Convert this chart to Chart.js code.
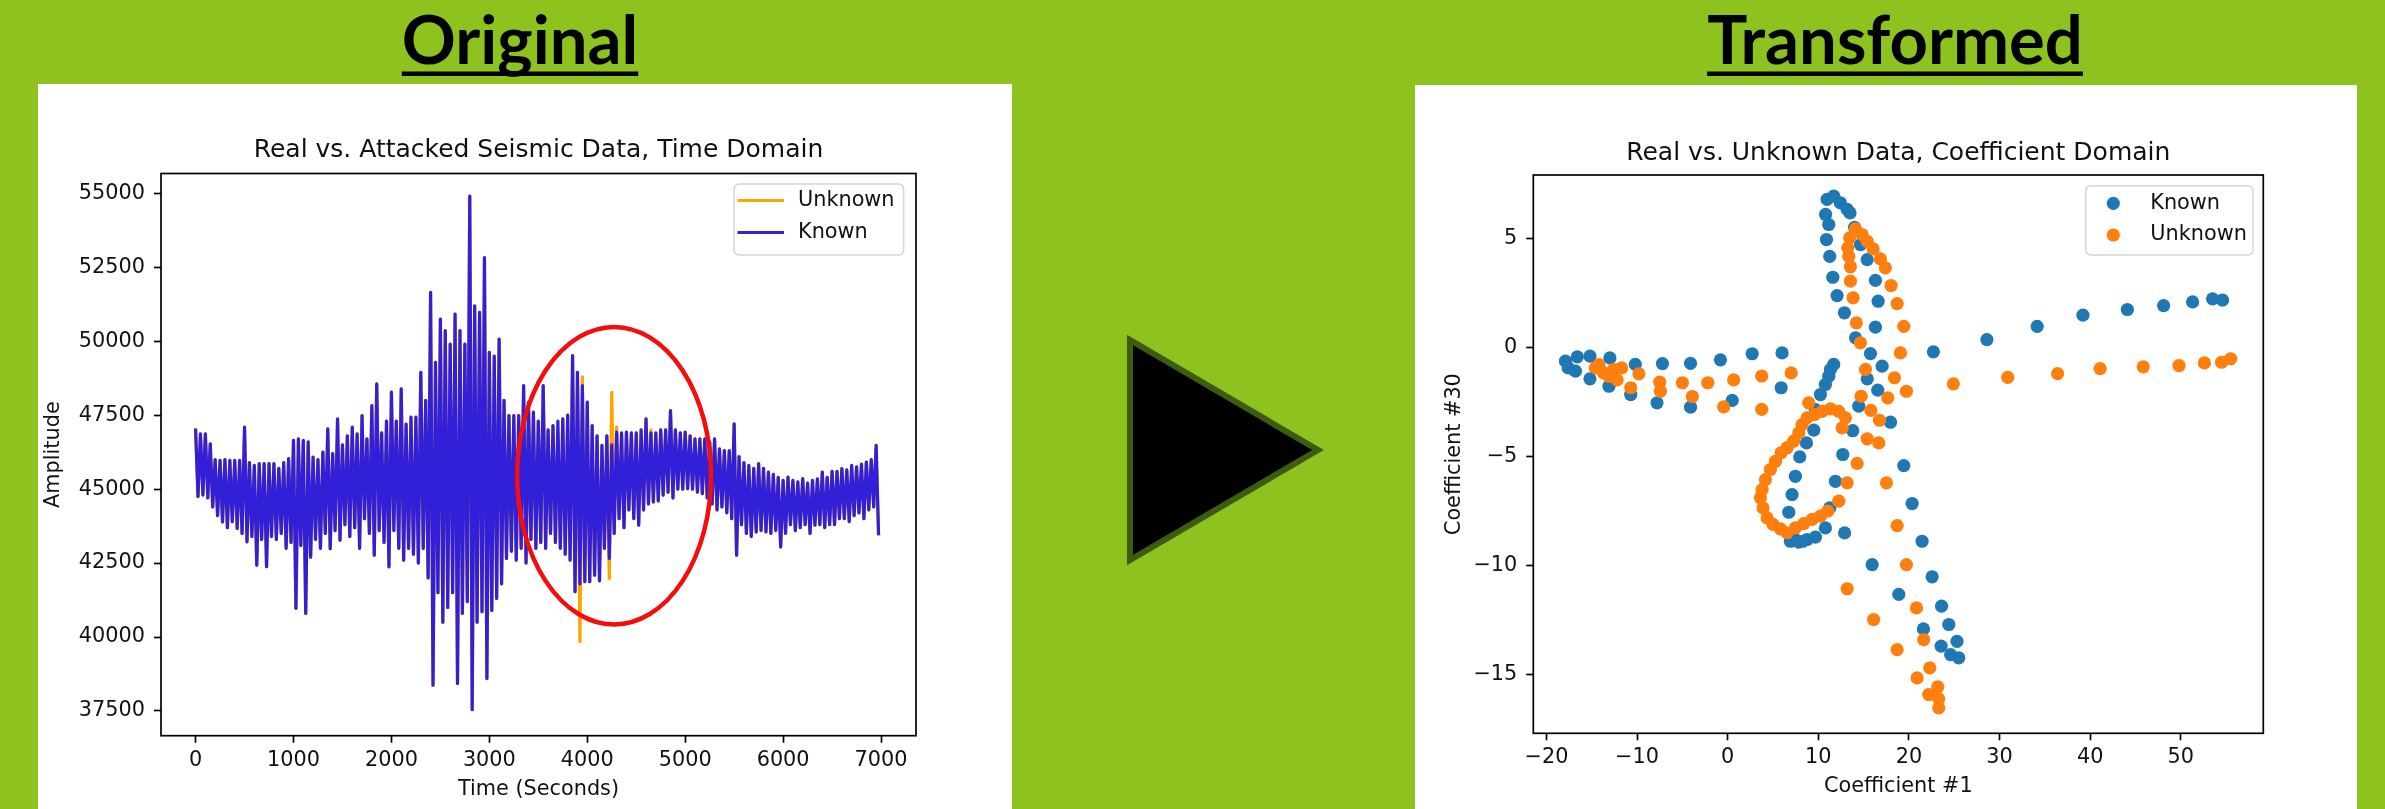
<!DOCTYPE html>
<html><head><meta charset="utf-8">
<script src="https://cdn.jsdelivr.net/npm/chart.js@4.4.1/dist/chart.umd.min.js"></script>
<style>
html,body{margin:0;padding:0;}
body{width:2385px;height:809px;background:#8dc21f;position:relative;overflow:hidden;}
.panel{position:absolute;background:#fff;}
canvas{position:absolute;}
svg{position:absolute;left:0;top:0;}
</style></head><body>
<div class="panel" style="left:38px;top:84px;width:974px;height:725px"></div>
<div class="panel" style="left:1415px;top:85px;width:942px;height:724px"></div>
<canvas id="timeChart" width="974" height="725" style="left:38px;top:84px;width:974px;height:725px"></canvas>
<canvas id="coefChart" width="942" height="724" style="left:1415px;top:85px;width:942px;height:724px"></canvas>
<svg width="2385" height="809" viewBox="0 0 2385 809">
  <text id="head1" x="520" y="63.5" text-anchor="middle" font-family="Lato" font-weight="700" font-size="67" fill="#000">Original</text>
  <rect id="under1" x="398" y="71.5" width="244" height="4.5" fill="#000"/>
  <text id="head2" x="1895" y="63.5" text-anchor="middle" font-family="Lato" font-weight="700" font-size="67" fill="#000">Transformed</text>
  <rect id="under2" x="1699" y="71.5" width="391" height="4.5" fill="#000"/>
  <polygon points="1130,340 1130,560 1318,450" fill="#000" stroke="#3d5c12" stroke-width="6"/>
</svg>
<script>
// ===== Left chart: seismic trace, read as max / min per 50-second bin =====
const binSeconds = 50;
const knownHigh = [
  47050, 46870, 46870, 46535, 46000, 45970, 46000, 45970, 45970, 45970,
  47100, 45900, 45800, 45860, 45860, 45860, 45860, 45700, 45900, 46030,
  46650, 46700, 46650, 46600, 46085, 46000, 46250, 47040, 46200, 47377,
  46500, 46800, 47100, 46870, 47490, 46700, 47826, 48557, 46900, 47300,
  48277, 47300, 48390, 47200, 47433, 47433, 48950, 48000, 51650, 49288,
  50750, 50356, 49900, 50918, 50356, 49900, 54908, 51199, 50975, 52829,
  49625, 49500, 50075, 48000, 47490, 47490, 47490, 48500, 47940, 47600,
  47300, 48500, 47000, 47150, 47300, 47377, 47500, 49513, 48950, 48500,
  47940, 47150, 46800, 46478, 46800, 46500, 46928, 46900, 46928, 46900,
  46900, 47000, 47377, 46900, 46900, 47000, 47000, 47659, 47000, 46900,
  46928, 46800, 46703, 46703, 46703, 46600, 46703, 46366, 46300, 46300,
  47210, 46100, 45900, 45800, 45700, 45860, 45700, 45580, 45500, 45400,
  45300, 45410, 45300, 45250, 45354, 45200, 45300, 45350, 45580, 45400,
  45600, 45600, 45691, 45650, 45800, 45750, 45850, 45916, 46000, 46478
];
const knownLow = [
  44750, 44800, 44700, 44400, 44100, 43890, 43700, 43900, 43670, 43500,
  43220, 43400, 42430, 43300, 42380, 43400, 43300, 43500, 43000, 43200,
  40970, 43100, 40800, 42700, 43300, 43000, 43500, 42990, 43600, 43275,
  43800, 43400, 43700, 43000, 44000, 43500, 42770, 43600, 43200, 42375,
  43600, 43000, 42600, 42994, 42800, 42500, 42994, 42000, 38370, 41500,
  40500, 41000, 41500, 38430, 40800, 41200, 37545, 40500, 40858, 38600,
  40900, 41307, 41800, 42656, 42900, 42600, 43000, 42500, 43300, 43000,
  43200, 43000, 43500, 43200, 43000, 42800, 42600, 41532, 41800, 41870,
  41870, 42094, 41900, 43000, 42656, 43500, 44000, 43700, 44300, 44005,
  43780, 44300, 44500, 44567, 44600, 44800, 44900, 44700, 45000, 45000,
  45017, 45000, 44900, 44848, 44700, 44500, 44300, 44400, 44200, 44000,
  42769, 43800, 43500, 43400, 43556, 43600, 43556, 43500, 43600, 43045,
  43500, 43800, 43600, 43700, 43800, 43500, 43780, 43800, 43700, 43800,
  43800, 44000, 44005, 43900, 44100, 44200, 44000, 44300, 44400, 43443
];
// where the attacked ("Unknown") trace departs from the known one
const attackHighTimes  = [3700, 3950, 4250, 4300, 4650];
const attackHighValues = [46900, 48800, 48276, 47100, 47000];
const attackLowTimes   = [3900, 4200];
const attackLowValues  = [39846, 41982];
const timeTicks = [0, 1000, 2000, 3000, 4000, 5000, 6000, 7000];
const amplitudeTicks = [37500, 40000, 42500, 45000, 47500, 50000, 52500, 55000];

// ===== Right chart: coefficient scatter =====
const knownC1 = [
  -17.9, -17.6, -16.6, -16.8, -15.2, -15.2, -13.0, -13.1, -10.2, -10.7, -7.2, -7.8, -4.1, -4.1, -0.8, 0.5, 2.7, 5.9, 6.0,
  11.7, 11.34, 11.15, 10.78, 10.23, 9.68, 9.5, 8.69, 7.95, 7.47, 7.1, 6.74, 6.92, 7.3, 7.84, 8.3, 8.76, 9.68, 10.78, 11.26, 11.89, 12.7, 13.8, 14.46, 12.9,
  10.97, 11.7, 12.44, 13.18, 13.5, 14.0, 10.8, 11.15, 10.9, 11.26, 11.6, 12.07, 12.88, 14.1, 15.75, 17.04, 15.4, 16.56, 17.96, 14.65, 15.39, 16.3, 16.6, 16.3,
  19.43, 20.35, 21.45, 15.94, 22.56, 18.88, 23.6, 24.4, 21.6, 23.55, 25.3, 24.6, 25.5,
  22.7, 28.6, 34.15, 39.2, 44.1, 48.1, 51.3, 53.5, 54.6
];
const knownC30 = [
  -0.64, -0.95, -0.44, -1.1, -0.41, -1.45, -0.49, -1.79, -0.79, -2.17, -0.75, -2.55, -0.74, -2.75, -0.58, -2.44, -0.3, -1.86, -0.26,
  -0.79, -1.02, -1.33, -1.71, -2.17, -2.86, -3.8, -4.39, -5.03, -5.92, -6.76, -7.57, -8.9, -8.75, -8.94, -8.9, -8.82, -8.71, -8.29, -7.37, -6.15, -4.92, -3.83, -2.7, -8.52,
  6.78, 6.93, 6.62, 6.32, 6.16, 5.5, 6.09, 5.63, 4.94, 4.17, 3.21, 2.37, 1.58, 0.43, -0.29, -0.87, -1.45, -1.97, -3.44, 4.71, 4.02, 3.07, 2.11, 0.92,
  -5.43, -7.17, -8.9, -9.97, -10.53, -11.34, -11.88, -12.72, -12.92, -13.71, -13.49, -14.1, -14.25,
  -0.21, 0.35, 0.96, 1.47, 1.73, 1.91, 2.08, 2.22, 2.16
];
const unknownC1 = [
  -14.6, -14.2, -13.7, -13.1, -12.6, -11.7, -12.2, -10.7, -9.8, -7.5, -7.43, -5.0, -3.9, -2.2, -0.44, 0.66, 3.75, 3.75, 7.0, 8.94,
  12.99, 12.63, 12.25, 11.34, 10.42, 9.57, 8.76, 8.21, 7.84, 7.28, 6.56, 5.9, 5.27, 4.71, 4.16, 3.8, 3.61, 3.9, 4.35, 5.0, 5.82, 6.56, 7.47, 8.39, 9.32, 10.23, 11.04, 12.25, 13.18, 14.28,
  14.1, 14.83, 15.39, 13.47, 13.25, 13.36, 13.54, 16.05, 16.85, 17.4, 18.03, 18.7, 19.43, 19.06, 18.4, 19.72, 17.66, 16.75, 15.8, 13.54, 13.84, 14.2, 14.65, 15.2, 14.72, 15.39, 16.67,
  17.52, 18.7, 19.72, 13.18, 16.1, 20.83, 21.63, 18.7, 22.3, 20.9, 23.18, 22.19, 23.29, 23.29,
  24.9, 30.9, 36.4, 41.1, 45.85, 49.8, 52.6, 54.5, 55.5
];
const unknownC30 = [
  -0.95, -0.8, -1.18, -1.33, -1.02, -0.95, -1.5, -1.86, -1.22, -1.6, -2.02, -1.63, -2.26, -1.63, -2.74, -1.5, -1.32, -2.85, -1.18, -2.55,
  -3.24, -3.7, -2.94, -2.83, -2.94, -3.09, -3.24, -3.55, -3.93, -4.31, -4.61, -4.84, -5.23, -5.61, -6.07, -6.53, -6.91, -7.37, -7.83, -8.13, -8.33, -8.51, -8.29, -8.09, -7.9, -7.75, -7.52, -7.06, -6.22, -5.33,
  5.43, 5.17, 4.86, 5.02, 4.56, 4.17, 3.69, 4.51, 4.05, 3.64, 2.83, 2.0, 0.96, -0.26, -1.4, -2.02, -2.32, -3.35, -2.9, 3.03, 2.27, 1.12, 0.2, -1.02, -2.25, -4.2, -4.39,
  -6.22, -8.18, -9.97, -11.08, -12.49, -11.96, -13.41, -13.87, -14.71, -15.17, -15.58, -15.93, -16.13, -16.54,
  -1.68, -1.38, -1.21, -0.98, -0.9, -0.84, -0.72, -0.69, -0.53
];
const coef1Ticks = [-20, -10, 0, 10, 20, 30, 40, 50];
const coef30Ticks = [-15, -10, -5, 0, 5];

// ===== helpers =====
function tracePoints(high, low) {
  const pts = [];
  for (let i = 0; i < high.length; i++) {
    pts.push({x: i * binSeconds, y: high[i]});
    pts.push({x: i * binSeconds + binSeconds / 2, y: low[i]});
  }
  return pts;
}
function withEdits(base, times, values) {
  const out = base.slice();
  times.forEach((t, k) => { out[Math.round(t / binSeconds)] = values[k]; });
  return out;
}
const unknownHigh = withEdits(knownHigh, attackHighTimes, attackHighValues);
const unknownLow = withEdits(knownLow, attackLowTimes, attackLowValues);
const pairs = (xs, ys) => xs.map((x, i) => ({x: x, y: ys[i]}));
const fixedTicks = arr => scale => { scale.ticks = arr.map(v => ({value: v})); };
const minusFmt = v => String(v).replace('-', '\u2212');

Chart.defaults.font.family = '"DejaVu Sans"';
Chart.defaults.color = '#111';
const TXT = '#111';
const TICK = 20.8;

const mplFrame = {
  id: 'mplFrame',
  afterDatasetsDraw(chart, args, o) {
    const {ctx, chartArea: a, scales} = chart;
    ctx.save();
    if (o.ellipse) {
      const e = o.ellipse;
      const cx = scales.x.getPixelForValue(e.x), cy = scales.y.getPixelForValue(e.y);
      const rx = Math.abs(scales.x.getPixelForValue(e.x + e.rx) - cx);
      const ry = Math.abs(scales.y.getPixelForValue(e.y + e.ry) - cy);
      ctx.beginPath();
      ctx.ellipse(cx, cy, rx, ry, 0, 0, Math.PI * 2);
      ctx.strokeStyle = e.color; ctx.lineWidth = e.width; ctx.stroke();
    }
    ctx.strokeStyle = '#000'; ctx.lineWidth = 1.7;
    ctx.strokeRect(a.left, a.top, a.right - a.left, a.bottom - a.top);
    const L = o.legend;
    if (L) {
      const x0 = a.right - L.right - L.width, y0 = a.top + L.top;
      ctx.beginPath();
      ctx.roundRect(x0, y0, L.width, L.height, 5);
      ctx.fillStyle = 'rgba(255,255,255,0.85)'; ctx.fill();
      ctx.strokeStyle = '#d4d4d4'; ctx.lineWidth = 1.5; ctx.stroke();
      ctx.font = TICK + 'px "DejaVu Sans"';
      ctx.textBaseline = 'middle'; ctx.textAlign = 'left';
      L.order.forEach((di, row) => {
        const ds = chart.data.datasets[di];
        const y = y0 + L.rowTop + row * L.rowGap;
        if (L.kind === 'line') {
          ctx.beginPath();
          ctx.moveTo(x0 + L.handleStart, y); ctx.lineTo(x0 + L.handleEnd, y);
          ctx.strokeStyle = ds.borderColor; ctx.lineWidth = 3; ctx.stroke();
        } else {
          ctx.beginPath();
          ctx.arc(x0 + L.markerX, y, ds.pointRadius, 0, Math.PI * 2);
          ctx.fillStyle = ds.backgroundColor; ctx.fill();
        }
        ctx.fillStyle = TXT;
        ctx.fillText(ds.label, x0 + L.textX, y);
      });
    }
    ctx.restore();
  }
};

function axisCommon(tickArr, fmt, pad, fit) {
  return {
    type: 'linear',
    afterBuildTicks: fixedTicks(tickArr),
    afterFit: fit,
    border: {display: false},
    grid: {display: true, drawOnChartArea: false, drawTicks: true, tickLength: 7, tickWidth: 1.7, tickColor: '#000'},
    ticks: {autoSkip: false, maxRotation: 0, minRotation: 0, padding: pad, color: TXT, font: {size: TICK}, callback: fmt}
  };
}

// ---- left chart ----
const lx = axisCommon(timeTicks, v => String(v), 5, s => { s.height = 73.3; });
Object.assign(lx, {min: -353, max: 7357, title: {display: true, text: 'Time (Seconds)', color: TXT, font: {size: TICK}, padding: {top: 0, bottom: 6.5}}});
const ly = axisCommon(amplitudeTicks, v => String(v), 9, s => { s.width = 123; });
Object.assign(ly, {min: 36665, max: 55670, title: {display: true, text: 'Amplitude', color: TXT, font: {size: TICK}, padding: {top: 3.5, bottom: 0}}});

new Chart(document.getElementById('timeChart'), {
  type: 'line',
  data: {datasets: [
    {label: 'Known', data: tracePoints(knownHigh, knownLow), borderColor: '#3220d8', borderWidth: 3.2, pointRadius: 0, tension: 0, borderJoinStyle: 'round', fill: false},
    {label: 'Unknown', data: tracePoints(unknownHigh, unknownLow), borderColor: '#ffa500', borderWidth: 3.2, pointRadius: 0, tension: 0, borderJoinStyle: 'round', fill: false}
  ]},
  options: {
    responsive: false, animation: false, devicePixelRatio: 1, parsing: false, normalized: true,
    layout: {padding: {left: 0, right: 96, top: 0, bottom: 0}},
    plugins: {
      legend: {display: false}, tooltip: {enabled: false},
      title: {display: true, fullSize: false, text: 'Real vs. Attacked Seismic Data, Time Domain', color: TXT, font: {size: 25, weight: 'normal'}, padding: {top: 51.65, bottom: 7.85}},
      mplFrame: {
        ellipse: {x: 4274, y: 45455, rx: 990, ry: 5030, color: '#f50d0d', width: 4.5},
        legend: {kind: 'line', order: [1, 0], width: 169.6, height: 71, right: 12.4, top: 10.5, rowTop: 16.5, rowGap: 32, handleStart: 3.5, handleEnd: 50, textX: 64}
      }
    },
    scales: {x: lx, y: ly}
  },
  plugins: [mplFrame]
});

// ---- right chart ----
const rx = axisCommon(coef1Ticks, minusFmt, 5, s => { s.height = 75.7; });
Object.assign(rx, {min: -21.45, max: 59.1, title: {display: true, text: 'Coefficient #1', color: TXT, font: {size: TICK}, padding: {top: 0, bottom: 10.4}}});
const ry = axisCommon(coef30Ticks, minusFmt, 9, s => { s.width = 118.3; });
Object.assign(ry, {min: -17.71, max: 7.9, title: {display: true, text: 'Coefficient #30', color: TXT, font: {size: TICK}, padding: {top: 27, bottom: 0}}});

new Chart(document.getElementById('coefChart'), {
  type: 'scatter',
  data: {datasets: [
    {label: 'Unknown', data: pairs(unknownC1, unknownC30), backgroundColor: '#ff7f0e', borderWidth: 0, pointRadius: 6.6, pointHoverRadius: 6.6},
    {label: 'Known', data: pairs(knownC1, knownC30), backgroundColor: '#1f77b4', borderWidth: 0, pointRadius: 6.6, pointHoverRadius: 6.6}
  ]},
  options: {
    responsive: false, animation: false, devicePixelRatio: 1,
    layout: {padding: {left: 0, right: 93.7, top: 0, bottom: 0}},
    plugins: {
      legend: {display: false}, tooltip: {enabled: false},
      title: {display: true, fullSize: false, text: 'Real vs. Unknown Data, Coefficient Domain', color: TXT, font: {size: 25, weight: 'normal'}, padding: {top: 53, bottom: 7}},
      mplFrame: {
        legend: {kind: 'dot', order: [1, 0], width: 167.2, height: 69.3, right: 10.3, top: 10.7, rowTop: 17.6, rowGap: 31.7, markerX: 27.5, textX: 64.5}
      }
    },
    scales: {x: rx, y: ry}
  },
  plugins: [mplFrame]
});

// headings: underline spans the rendered word
function fitUnderline(textId, rectId) {
  const t = document.getElementById(textId), r = document.getElementById(rectId);
  const w = t.getComputedTextLength();
  const cx = parseFloat(t.getAttribute('x'));
  r.setAttribute('x', cx - w / 2); r.setAttribute('width', w);
}
fitUnderline('head1', 'under1'); fitUnderline('head2', 'under2');
if (document.fonts && document.fonts.ready) document.fonts.ready.then(() => { fitUnderline('head1', 'under1'); fitUnderline('head2', 'under2'); });
</script>
</body></html>
